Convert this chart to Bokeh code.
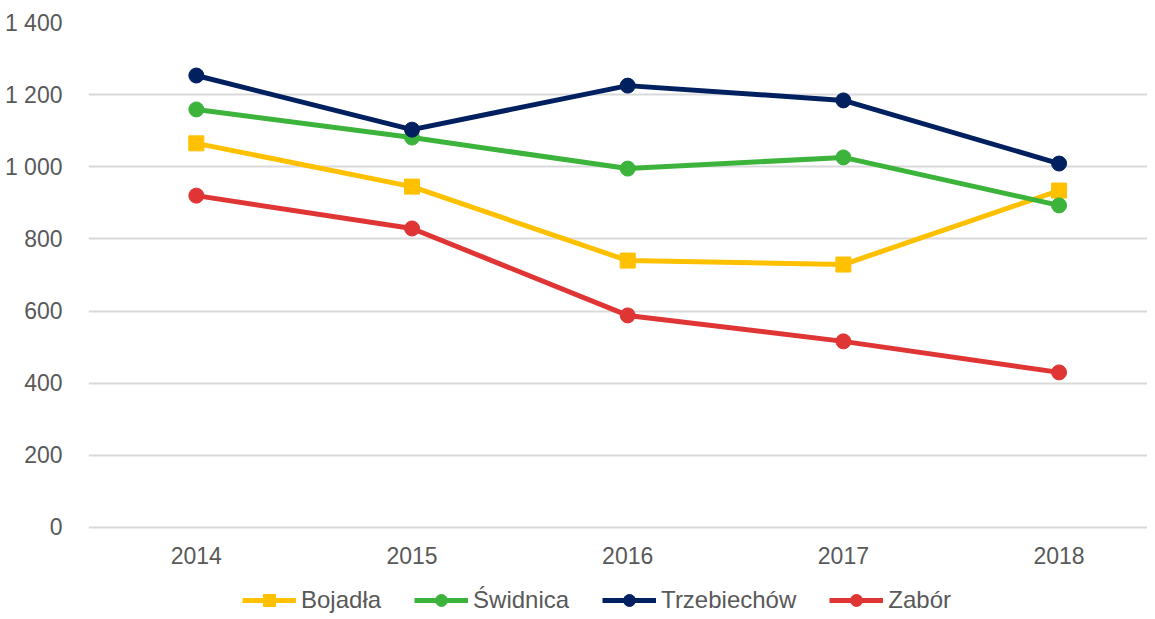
from bokeh.plotting import figure
from bokeh.models import Range1d, FixedTicker, Legend, LegendItem, LinearAxis
from bokeh.embed import file_html
from bokeh.resources import INLINE

years = [2014, 2015, 2016, 2017, 2018]
bojadla = [1065, 945, 740, 729, 934]
swidnica = [1159, 1081, 995, 1026, 893]
trzebiechow = [1253, 1103, 1225, 1184, 1009]
zabor = [920, 829, 588, 516, 430]

y_ticks = [0, 200, 400, 600, 800, 1000, 1200, 1400]
y_tick_labels = ["0", "200", "400", "600", "800", "1 000", "1 200", "1 400"]
x_tick_labels = ["2014", "2015", "2016", "2017", "2018"]

series = [
    ("Bojadła", bojadla, "#FFC000", "square"),
    ("Świdnica", swidnica, "#3CB43C", "circle"),
    ("Trzebiechów", trzebiechow, "#002060", "circle"),
    ("Zabór", zabor, "#E03535", "circle"),
]

FONT = "Liberation Sans"
GRAY = "#595959"

p = figure(width=1147, height=615, output_backend="svg", toolbar_location=None,
           x_range=Range1d(2013.5, 2018.41), y_range=Range1d(-244, 1400),
           x_axis_location=None,
           min_border_left=88, min_border_right=0, min_border_top=22,
           min_border_bottom=0)
p.outline_line_color = None
p.background_fill_color = "white"
p.border_fill_color = "white"

xaxis = LinearAxis(fixed_location=0)
p.add_layout(xaxis, "below")

p.xgrid.grid_line_color = None
p.ygrid.grid_line_color = "#D9D9D9"
p.ygrid.grid_line_width = 2
p.ygrid.ticker = FixedTicker(ticks=y_ticks)

xaxis.ticker = FixedTicker(ticks=years)
xaxis.major_label_overrides = {y: l for y, l in zip(years, x_tick_labels)}
p.yaxis.ticker = FixedTicker(ticks=y_ticks)
p.yaxis.major_label_overrides = {t: l for t, l in zip(y_ticks, y_tick_labels)}

for ax in (xaxis, p.yaxis[0]):
    ax.axis_line_color = None
    ax.major_tick_line_color = None
    ax.minor_tick_line_color = None
    ax.major_label_text_font = FONT
    ax.major_label_text_font_size = "23px"
    ax.major_label_text_color = GRAY
p.yaxis.major_label_standoff = 20
xaxis.major_label_standoff = 14

items = []
for name, vals, color, marker in series:
    r1 = p.line(years, vals, line_color=color, line_width=5)
    r2 = p.scatter(years, vals, marker=marker, size=15, fill_color=color,
                   line_color=color)
    items.append(LegendItem(label=name, renderers=[r1, r2]))

legend = Legend(items=items, orientation="horizontal", location=(154, 0),
                glyph_width=54, glyph_height=30, label_standoff=5, spacing=33,
                label_text_font=FONT, label_text_font_size="24px",
                label_text_color=GRAY, border_line_color=None,
                background_fill_alpha=0, padding=0, margin=0)
p.add_layout(legend, "center")

open("out.html", "w").write(file_html(p, INLINE))
